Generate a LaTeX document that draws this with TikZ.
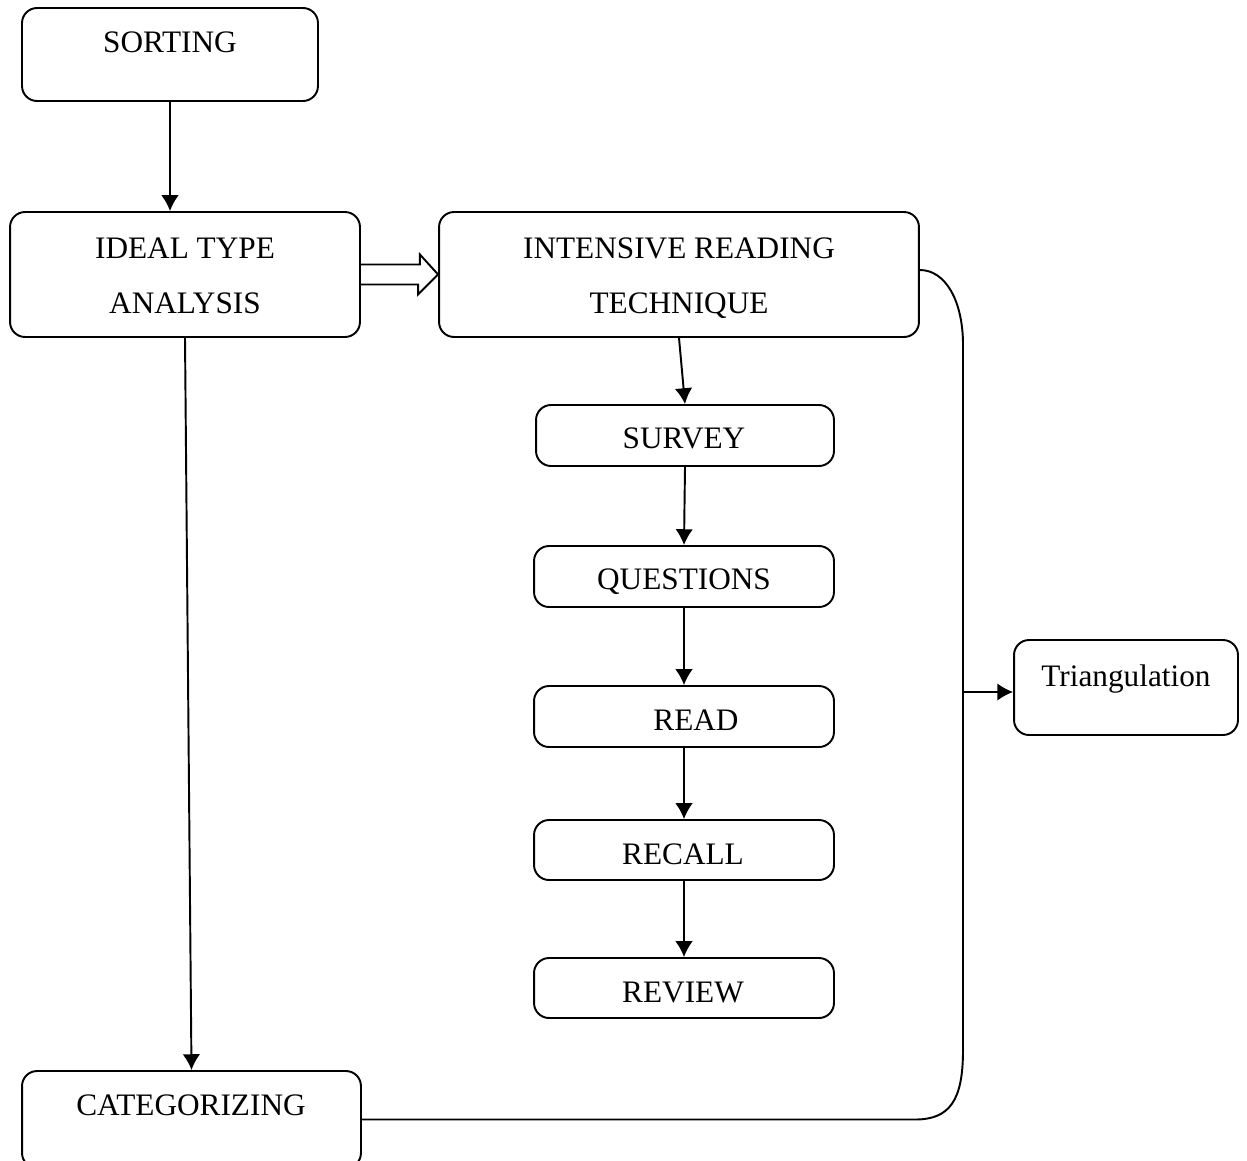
\documentclass[tikz,border=0pt]{standalone}
\usepackage{fontspec}
\setmainfont{Liberation Serif}
\usetikzlibrary{arrows.meta}
\begin{document}
\begin{tikzpicture}[x=0.02cm,y=-0.02cm,
  box/.style={draw,rounded corners=0.3cm,line width=1.1pt,inner sep=0pt},
  lbl/.style={anchor=base,inner sep=0pt,font=\fontsize{17.8}{21}\selectfont},
  conn/.style={line width=1.1pt,-{Latex[length=9pt,width=10pt]}},
  plain/.style={line width=1.1pt}]
\useasboundingbox (0,0) rectangle (1247,1160);
% boxes
\node[box,minimum width=5.92cm,minimum height=1.86cm] (sorting) at (170,54.5) {};
\node[box,minimum width=7cm,minimum height=2.5cm] (ideal) at (185,274.5) {};
\node[box,minimum width=9.6cm,minimum height=2.5cm] (intensive) at (679,274.5) {};
\node[box,minimum width=5.96cm,minimum height=1.22cm] (survey) at (685,435.5) {};
\node[box,minimum width=6cm,minimum height=1.22cm] (questions) at (684,576.5) {};
\node[box,minimum width=6cm,minimum height=1.22cm] (read) at (684,716.5) {};
\node[box,minimum width=6cm,minimum height=1.2cm] (recall) at (684,850) {};
\node[box,minimum width=6cm,minimum height=1.2cm] (review) at (684,988) {};
\node[box,minimum width=4.48cm,minimum height=1.9cm] (tri) at (1126,687.5) {};
\node[box,minimum width=6.78cm,minimum height=1.94cm] (cat) at (191.5,1119.5) {};
% labels
\node[lbl] (sortingT) at (170,52) {SORTING};
\node[lbl] (idealT1) at (185,258) {IDEAL TYPE};
\node[lbl] (idealT2) at (185,313) {ANALYSIS};
\node[lbl] (intensiveT1) at (679,258) {INTENSIVE READING};
\node[lbl] (intensiveT2) at (679,313) {TECHNIQUE};
\node[lbl] (surveyT) at (684,448) {SURVEY};
\node[lbl] (questionsT) at (684,589) {QUESTIONS};
\node[lbl] (readT) at (696,730) {READ};
\node[lbl] (recallT) at (683,864) {RECALL};
\node[lbl] (reviewT) at (683,1002) {REVIEW};
\node[lbl] (triT) at (1126,686) {Triangulation};
\node[lbl] (catT) at (191,1115) {CATEGORIZING};
% connectors
\draw[conn] (sorting.south) -- (sorting.south |- ideal.north);
\draw[conn] (ideal.south) -- (cat.north);
\draw[conn] (intensive.south) -- (survey.north);
\draw[conn] (survey.south) -- (questions.north);
\draw[conn] (questions.south) -- (read.north);
\draw[conn] (read.south) -- (recall.north);
\draw[conn] (recall.south) -- (review.north);
% hollow arrow
\draw[plain,line join=miter] (ideal.east) ++(0,-10) -- ++(59,0) -- ++(0,-10) -- (intensive.west) -- ++(-20,20) -- ++(0,-10) -- ++(-59,0);
% bracket curve
\coordinate (ctop) at (963,345);
\coordinate (cbot) at (963,1050);
\coordinate (junc) at (963,692);
\draw[plain] ([yshift=0.09cm]intensive.east) .. controls (945,270) and (963,300) .. (ctop) -- (cbot) .. controls (963,1100) and (950,1119.5) .. (915,1119.5) -- (cat.east);
\draw[conn] (junc) -- (junc -| tri.west);
\end{tikzpicture}
\end{document}
